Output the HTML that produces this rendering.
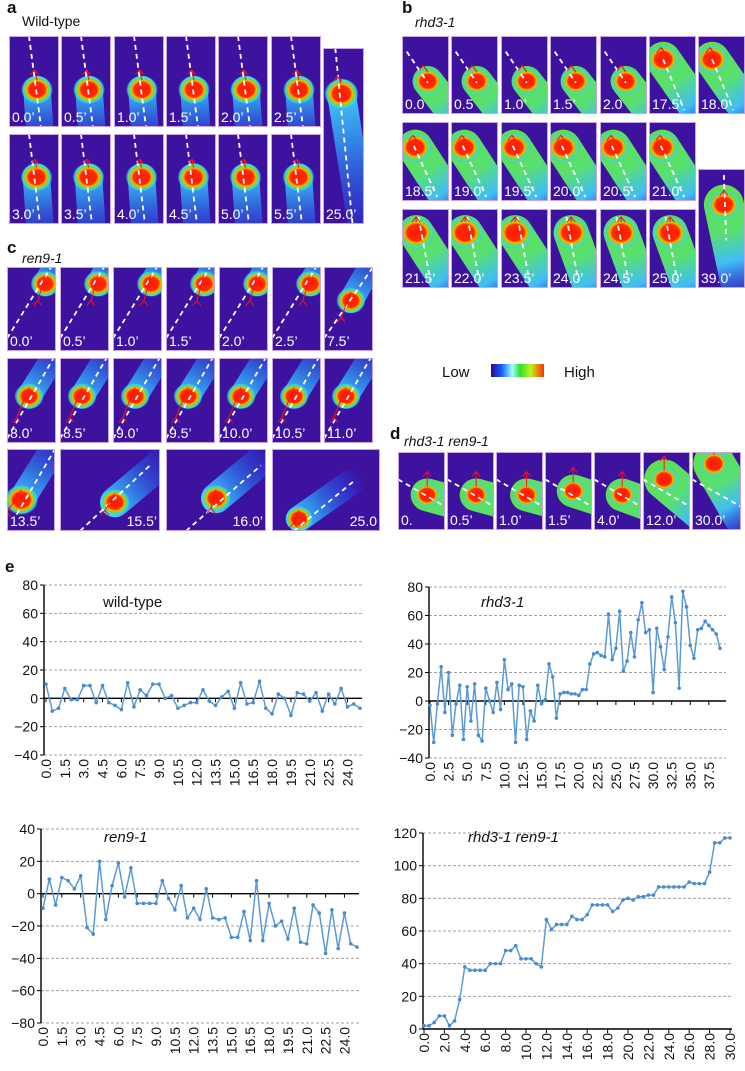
<!DOCTYPE html>
<html><head><meta charset="utf-8">
<style>
html,body{margin:0;padding:0;background:#fff;}
body{width:745px;height:1071px;position:relative;overflow:hidden;font-family:"Liberation Sans",sans-serif;}
svg{position:absolute;left:0;top:0;}
</style></head>
<body>
<svg id="fig" width="745" height="1071" viewBox="0 0 745 1071">
<defs>
<radialGradient id="headG" cx="0.5" cy="0.5" r="0.5">
<stop offset="0" stop-color="#ff1a00"/><stop offset="0.5" stop-color="#ff2a00"/><stop offset="0.64" stop-color="#ffb000"/><stop offset="0.76" stop-color="#60e040"/><stop offset="0.9" stop-color="#40d8ff" stop-opacity="0.7"/><stop offset="1" stop-color="#30a0ff" stop-opacity="0"/>
</radialGradient>
<linearGradient id="tailCyan" x1="0" y1="0" x2="0" y2="1">
<stop offset="0" stop-color="#50e8ff" stop-opacity="0.95"/><stop offset="0.35" stop-color="#30b0ff" stop-opacity="0.75"/><stop offset="0.75" stop-color="#2060ff" stop-opacity="0.4"/><stop offset="1" stop-color="#2040ff" stop-opacity="0"/>
</linearGradient>
<linearGradient id="tailGreen" x1="0" y1="0" x2="0" y2="1">
<stop offset="0" stop-color="#60e048"/><stop offset="0.4" stop-color="#58e070"/><stop offset="0.65" stop-color="#40d0ff" stop-opacity="0.9"/><stop offset="1" stop-color="#2050ff" stop-opacity="0.2"/>
</linearGradient>
<linearGradient id="cbar" x1="0" y1="0" x2="1" y2="0">
<stop offset="0" stop-color="#2a0a90"/><stop offset="0.2" stop-color="#1060ff"/><stop offset="0.4" stop-color="#a0ffff"/><stop offset="0.55" stop-color="#30e030"/><stop offset="0.75" stop-color="#c0f020"/><stop offset="1" stop-color="#ff3000"/>
</linearGradient>
</defs>
<g id="images"></g>
<g id="charts"></g>
</svg>
<script>
// ---------------- chart data ----------------
const wtCats = ["0.0","0.5","1.0","1.5","2.0","2.5","3.0","3.5","4.0","4.5","5.0","5.5","6.0","6.5","7.0","7.5","8.0","8.5","9.0","9.5","10.0","10.5","11.0","11.5","12.0","12.5","13.0","13.5","14.0","14.5","15.0","15.5","16.0","16.5","17.0","17.5","18.0","18.5","19.0","19.5","20.0","20.5","21.0","21.5","22.0","22.5","23.0","23.5","24.0","24.5","25.0"];
const wtVals = [10,-9,-7,7,-1,-1,9,9,-3,9,-3,-5,-8,11,-6,6,2,10,10,0,2,-7,-5,-3,-3,6,-2,-5,1,5,-7,11,-4,-3,12,-7,-11,3,0,-12,4,3,-2,4,-9,3,-4,7,-6,-4,-7];
const wtTicks = [-40,-20,0,20,40,60,80];

const rhCats = ["0.0","0.5","1.0","1.5","2.0","2.5","3.0","3.5","4.0","4.5","5.0","5.5","6.0","6.5","7.0","7.5","8.0","8.5","9.0","9.5","10.0","10.5","11.0","11.5","12.0","12.5","13.0","13.5","14.0","14.5","15.0","15.5","16.0","16.5","17.0","17.5","18.0","18.5","19.0","19.5","20.0","20.5","21.0","21.5","22.0","22.5","23.0","23.5","24.0","24.5","25.0","25.5","26.0","26.5","27.0","27.5","28.0","28.5","29.0","29.5","30.0","30.5","31.0","31.5","32.0","32.5","33.0","33.5","34.0","34.5","35.0","35.5","36.0","36.5","37.0","37.5","38.0","38.5","39.0"];
const rhVals = [-3,-29,-2,24,-8,20,-24,-2,11,-27,10,-14,12,-24,-28,9,0,-8,13,-6,29,8,12,-29,11,10,-27,-7,-14,11,-2,1,26,17,-12,5,6,6,5,5,4,8,8,26,33,34,32,31,61,29,37,63,21,28,48,31,57,69,48,50,6,51,38,22,45,73,55,9,77,66,39,30,50,51,56,53,50,47,37];
const rhTicks = [-40,-20,0,20,40,60,80];

const rnCats = wtCats.slice();
const rnVals = [-9,9,-7,10,8,3,11,-21,-25,20,-16,5,19,-2,16,-6,-6,-6,-6,8,-3,-10,5,-15,-9,-16,3,-15,-16,-15,-27,-27,-11,-29,8,-29,-6,-20,-17,-28,-9,-30,-31,-7,-12,-37,-10,-34,-12,-31,-33];
const rnTicks = [-80,-60,-40,-20,0,20,40];

const dbCats = ["0.0","0.5","1.0","1.5","2.0","2.5","3.0","3.5","4.0","4.5","5.0","5.5","6.0","6.5","7.0","7.5","8.0","8.5","9.0","9.5","10.0","10.5","11.0","11.5","12.0","12.5","13.0","13.5","14.0","14.5","15.0","15.5","16.0","16.5","17.0","17.5","18.0","18.5","19.0","19.5","20.0","20.5","21.0","21.5","22.0","22.5","23.0","23.5","24.0","24.5","25.0","25.5","26.0","26.5","27.0","27.5","28.0","28.5","29.0","29.5","30.0"];
const dbVals = [2,2,4,8,8,2,5,18,38,36,36,36,36,40,40,40,48,48,51,43,43,43,40,38,67,61,64,64,64,69,67,67,70,76,76,76,76,72,74,79,80,79,81,81,82,82,87,87,87,87,87,87,90,89,89,89,96,114,114,117,117];
const dbTicks = [0,20,40,60,80,100,120];

const NS = "http://www.w3.org/2000/svg";
function mk(tag, attrs, parent){
  const e = document.createElementNS(NS, tag);
  for (const k in attrs) e.setAttribute(k, attrs[k]);
  if (parent) parent.appendChild(e);
  return e;
}

function drawChart(cfg, cats, vals, ticks){
  const root = document.getElementById('charts');
  const g = mk('g', {}, root);
  
  
  const ymin = ticks[0], ymax = ticks[ticks.length-1];
  const yS = v => cfg.yTop + (ymax - v) / (ymax - ymin) * (cfg.yBot - cfg.yTop);
  const step = (cfg.xLast - cfg.x0) / (cats.length - 1);
  const xS = i => cfg.x0 + i * step;
  ticks.forEach(t => {
    const y = yS(t);
    if (t !== 0) {
      const gl = mk('line', {x1: cfg.ax, x2: cfg.gridEnd, y1: y, y2: y, stroke: '#a0a0a0', 'stroke-width': 1, 'stroke-dasharray': '3,2'}, g);
      
      
    }
    mk('line', {x1: cfg.ax - 4, x2: cfg.ax, y1: y, y2: y, stroke: '#000', 'stroke-width': 1}, g);
    const tl = mk('text', {x: cfg.ax - 6, y: y + 5, 'text-anchor': 'end', 'font-size': 14, fill: '#111'}, g);
    tl.textContent = t < 0 ? '\u2212' + Math.abs(t) : String(t);
    
    
  });
  const ya = mk('line', {x1: cfg.ax, x2: cfg.ax, y1: yS(ymax), y2: yS(ymin), stroke: '#000', 'stroke-width': 1.4}, g);
  
  
  const y0 = yS(0);
  const za = mk('line', {x1: cfg.ax, x2: cfg.gridEnd, y1: y0, y2: y0, stroke: '#000', 'stroke-width': 1.4}, g);
  
  
  cats.forEach((c, i) => {
    if (i % cfg.every !== 0) return;
    const x = xS(i);
    mk('line', {x1: x, x2: x, y1: y0, y2: y0 + 4, stroke: '#000', 'stroke-width': 1}, g);
    const ly = cfg.yBot + 4;
    const tl = mk('text', {x: x + 5, y: ly, 'text-anchor': 'end', 'font-size': 14, fill: '#111', transform: 'rotate(-90 ' + (x + 5) + ' ' + ly + ')'}, g);
    tl.textContent = c;
    
    
  });
  const pts = vals.map((v, i) => xS(i).toFixed(1) + ',' + yS(v).toFixed(1)).join(' ');
  const pl = mk('polyline', {points: pts, fill: 'none', stroke: '#5b9bd5', 'stroke-width': 1.5}, g);
  
  
  vals.forEach((v, i) => {
    const c = mk('circle', {cx: xS(i), cy: yS(v), r: 1.8, fill: '#4a8bd0'}, g);
    
    
  });
  const tt = mk('text', {x: cfg.tx, y: cfg.ty, 'font-size': 15, fill: '#111', 'font-style': cfg.italic ? 'italic' : 'normal'}, g);
  tt.textContent = cfg.title;
  
  
}

drawChart({name: 'wild-type-chart', ax: 44, yTop: 585, yBot: 755, x0: 46, xLast: 360, gridEnd: 362, every: 3, title: 'wild-type', tx: 103, ty: 607, italic: false}, wtCats, wtVals, wtTicks);
drawChart({name: 'rhd3-1-chart', ax: 429, yTop: 587, yBot: 758, x0: 430, xLast: 720, gridEnd: 726, every: 5, title: 'rhd3-1', tx: 481, ty: 607, italic: true}, rhCats, rhVals, rhTicks);
drawChart({name: 'ren9-1-chart', ax: 41, yTop: 829, yBot: 1023, x0: 43, xLast: 357, gridEnd: 359, every: 3, title: 'ren9-1', tx: 104, ty: 842, italic: true}, rnCats, rnVals, rnTicks);
drawChart({name: 'rhd3-1-ren9-1-chart', ax: 423, yTop: 833, yBot: 1029, x0: 424, xLast: 730, gridEnd: 732, every: 4, title: 'rhd3-1 ren9-1', tx: 468, ty: 842, italic: true}, dbCats, dbVals, dbTicks);

// ---------------- image tiles ----------------
const IG = document.getElementById('images');
let clipN = 0;
function tile(x, y, w, h, label, o){
  const g = mk('g', {}, IG);
  
  
  const id = 'cp' + (clipN++);
  const cp = mk('clipPath', {id: id}, g);
  mk('rect', {x: x, y: y, width: w, height: h}, cp);
  const inner = mk('g', {'clip-path': 'url(#' + id + ')'}, g);
  mk('rect', {x: x, y: y, width: w, height: h, fill: '#3d129f'}, inner);
  const hx = x + o.hx * w, hy = y + o.hy * h;
  const bw = o.bw * w, len = o.len * h;
  mk('rect', {x: hx - bw/2, y: hy - bw/2, width: bw, height: len, rx: bw/2, ry: bw/2,
    fill: o.green ? 'url(#tailGreen)' : 'url(#tailCyan)', transform: 'rotate(' + o.ang + ' ' + hx + ' ' + hy + ')'}, inner);
  const hr = o.hr * w;
  mk('ellipse', {cx: hx, cy: hy, rx: hr, ry: hr * 0.9, fill: 'url(#headG)'}, inner);
  if (o.dash) {
    mk('line', {x1: x + o.dash[0]*w, y1: y + o.dash[1]*h, x2: x + o.dash[2]*w, y2: y + o.dash[3]*h, stroke: '#fff', 'stroke-width': 1.8, 'stroke-dasharray': '5,4'}, inner);
  }
  if (o.arrow) {
    const ax = hx + o.arrow[0]*w, ay = hy + o.arrow[1]*h;
    mk('path', {d: 'M' + (ax-4) + ' ' + (ay+5) + ' L' + ax + ' ' + ay + ' L' + (ax+4) + ' ' + (ay+5) + ' M' + ax + ' ' + ay + ' L' + hx + ' ' + (hy - hr*0.6), stroke: '#ff1010', 'stroke-width': 1, fill: 'none'}, inner);
  }
  mk('rect', {x: x + 0.5, y: y + 0.5, width: w - 1, height: h - 1, fill: 'none', stroke: '#c9a3e6', 'stroke-width': 1}, g);
  const right = o.labRight;
  const t = mk('text', {x: right ? x + w - 3 : x + 3, y: y + h - 5, 'text-anchor': right ? 'end' : 'start', 'font-size': 14, fill: '#fff'}, g);
  t.textContent = label;
  
  
}
function txt(x, y, s, size, opts){
  const t = mk('text', Object.assign({x: x, y: y, 'font-size': size, fill: '#111'}, opts || {}), IG);
  t.textContent = s;
  return t;
}

let t;
t = txt(7, 13, 'a', 17, {'font-weight': 'bold'});  
t = txt(22, 26, 'Wild-type', 14);  
const aX = [9,61,114,166,218,271];
const aL1 = ['0.0\u2019','0.5\u2019','1.0\u2019','1.5\u2019','2.0\u2019','2.5\u2019'];
const aL2 = ['3.0\u2019','3.5\u2019','4.0\u2019','4.5\u2019','5.0\u2019','5.5\u2019'];
aX.forEach((x,i)=>tile(x,36,50,91,aL1[i],{hx:0.56,hy:0.59,bw:0.55,len:0.9,ang:-4,hr:0.32,dash:[0.4,0,0.64,1],arrow:[-0.05,-0.22]}));
aX.forEach((x,i)=>tile(x,134,50,90,aL2[i],{hx:0.55,hy:0.48,bw:0.55,len:1.0,ang:-4,hr:0.32,dash:[0.4,0,0.62,1],arrow:[-0.03,-0.2]}));
tile(323,48,41,176,'25.0\u2019',{hx:0.45,hy:0.26,bw:0.7,len:1.0,ang:-9,hr:0.42,dash:[0.3,0,0.72,1],arrow:[-0.1,-0.1]});

t = txt(402, 13, 'b', 17, {'font-weight': 'bold'});  
t = txt(415, 27, 'rhd3-1', 14, {'font-style':'italic'});  
const bX = [402,451,501,550,600,649,698];
const bL1 = ['0.0','0.5','1.0\u2019','1.5\u2019','2.0','17.5\u2019','18.0\u2019'];
const bL2 = ['18.5\u2019','19.0\u2019','19.5\u2019','20.0\u2019','20.5\u2019','21.0\u2019'];
const bL3 = ['21.5\u2019','22.0\u2019','23.5\u2019','24.0\u2019','24.5\u2019','25.0\u2019'];
bX.forEach((x,i)=>{
  const early = i < 5;
  tile(x,36,47,78,bL1[i], early ? {hx:0.55,hy:0.58,bw:0.65,len:1.2,ang:-38,hr:0.32,green:true,dash:[0.1,0.2,0.55,0.6],arrow:[-0.1,-0.2]}
                                : {hx:0.3,hy:0.3,bw:0.75,len:1.4,ang:-35,hr:0.35,green:true,dash:[0.3,0.3,0.75,0.95],arrow:[-0.05,-0.15]});
});
bX.slice(0,6).forEach((x,i)=>tile(x,122,47,79,bL2[i],{hx:0.28,hy:0.32,bw:0.75,len:1.4,ang:-33,hr:0.35,green:true,dash:[0.25,0.3,0.75,0.95],arrow:[-0.05,-0.15]}));
bX.slice(0,6).forEach((x,i)=>tile(x,209,47,79,bL3[i],{hx:i>2?0.45:0.3,hy:0.3,bw:0.75,len:1.4,ang:i>2?-20:-33,hr:0.38,green:true,dash:[0.35,0.1,0.6,0.9],arrow:[0,-0.2]}));
tile(698,169,47,119,'39.0\u2019',{hx:0.55,hy:0.3,bw:0.85,len:1.0,ang:-12,hr:0.35,green:true,dash:[0.55,0.05,0.6,0.6],arrow:[0,-0.12]});
t = txt(442, 377, 'Low', 15);  
const cb = mk('rect', {x:491, y:364, width:53, height:13, fill:'url(#cbar)'}, IG);
 
t = txt(564, 377, 'High', 15);  

t = txt(7, 253, 'c', 17, {'font-weight': 'bold'});  
t = txt(22, 263, 'ren9-1', 14, {'font-style':'italic'});  
const cX = [7,60,113,166,219,272,324];
const cL1 = ['0.0\u2019','0.5\u2019','1.0\u2019','1.5\u2019','2.0\u2019','2.5\u2019','7.5\u2019'];
const cL2 = ['8.0\u2019','8.5\u2019','9.0\u2019','9.5\u2019','10.0\u2019','10.5\u2019','11.0\u2019'];
cX.forEach((x,i)=>{
  const last = i === 6;
  tile(x,267,49,84,cL1[i], last ? {hx:0.55,hy:0.4,bw:0.5,len:1.0,ang:-150,hr:0.3,dash:[0,0.85,1,0],arrow:[-0.2,0.2]}
                              : {hx:0.78,hy:0.2,bw:0.5,len:0.8,ang:-150,hr:0.3,dash:[0,0.85,0.9,0],arrow:[-0.15,0.2]});
});
cX.forEach((x,i)=>tile(x,358,49,85,cL2[i],{hx:0.45,hy:0.45,bw:0.5,len:1.0,ang:-148,hr:0.3,dash:[0,0.95,0.95,0],arrow:[-0.25,0.25]}));
tile(7,449,48,82,'13.5\u2019',{hx:0.3,hy:0.62,bw:0.55,len:1.2,ang:-148,hr:0.35,dash:[0.2,0.8,1,0],arrow:[-0.3,0.15]});
tile(60,449,100,82,'15.5\u2019',{hx:0.55,hy:0.65,bw:0.3,len:1.1,ang:-130,hr:0.15,dash:[0.2,1,0.9,0.2],arrow:[-0.1,0.1],labRight:true});
tile(166,449,100,82,'16.0\u2019',{hx:0.5,hy:0.6,bw:0.3,len:1.1,ang:-130,hr:0.15,dash:[0.2,1,0.95,0.2],arrow:[-0.05,0.12],labRight:true});
tile(272,449,108,82,'25.0',{hx:0.25,hy:0.85,bw:0.24,len:1.1,ang:-125,hr:0.13,dash:[0.2,1,0.75,0.4],arrow:[-0.05,0.05],labRight:true});

t = txt(390, 439, 'd', 17, {'font-weight': 'bold'});  
t = txt(404, 446, 'rhd3-1 ren9-1', 14, {'font-style':'italic'});  
const dX = [398,447,496,545,594,643,692];
const dL = ['0.','0.5\u2019','1.0\u2019','1.5\u2019','4.0\u2019','12.0\u2019','30.0\u2019'];
const dH = [[0.62,0.55,-75],[0.62,0.55,-75],[0.65,0.55,-75],[0.6,0.5,-72],[0.6,0.55,-70],[0.45,0.35,-50],[0.45,0.15,-30]];
dX.forEach((x,i)=>tile(x,452,i===6?49:47,78,dL[i],{hx:dH[i][0],hy:dH[i][1],bw:i>4?0.85:0.7,len:1.3,ang:dH[i][2],hr:0.3,green:true,dash:[0,0.35,1,0.7],arrow:[0,-0.3]}));

t = mk('text', {x: 5, y: 572, 'font-size': 17, 'font-weight': 'bold', fill: '#111'}, IG);
t.textContent = 'e';


</script>
</body></html>
